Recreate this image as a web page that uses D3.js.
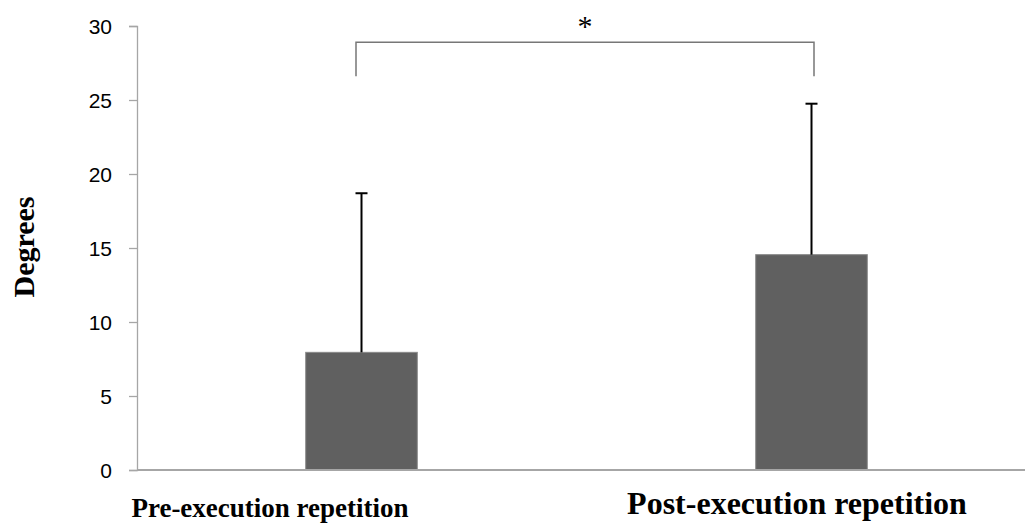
<!DOCTYPE html>
<html>
<head>
<meta charset="utf-8">
<script src="https://cdn.jsdelivr.net/npm/d3@7"></script>
<style>
  html, body { margin: 0; padding: 0; background: #fff; }
  svg { display: block; }
</style>
</head>
<body>
<svg id="chart" width="1027" height="523"></svg>
<script>
// ---- data ----
const categories = ["Pre-execution repetition", "Post-execution repetition"];
const means = [7.95, 14.55];
const sds = [10.75, 10.2];
const yTicks = [0, 5, 10, 15, 20, 25, 30];
const yLabel = "Degrees";
const sigLabel = "*";
const sigBracket = [28.9, 26.6]; // top, leg bottom (data units)

// ---- layout ----
const svg = d3.select("#chart");
const x = d3.scaleBand().domain(categories).range([136.5, 1036.5]).padding(0);
const y = d3.scaleLinear().domain([0, 30]).range([470, 26]);
const axisRight = 1025;
const barFrac = 0.248;

// y axis
const yAxis = d3.axisLeft(y).tickValues(yTicks).tickSize(8).tickPadding(17);
const gy = svg.append("g").attr("transform", "translate(137,0)").call(yAxis);
gy.select(".domain").attr("stroke", "#a6a6a6").attr("stroke-width", 1.3);
gy.selectAll(".tick line").attr("stroke", "#a6a6a6").attr("stroke-width", 1.3);
gy.selectAll(".tick text")
  .attr("fill", "#000")
  .style("font-family", "'Liberation Sans', Arial, sans-serif")
  .style("font-size", "21px")
  .attr("dy", "0.36em");

// bars
const bw = x.bandwidth() * barFrac;
svg.append("g").selectAll("rect").data(categories).join("rect")
  .attr("x", d => x(d) + x.bandwidth() / 2 - bw / 2)
  .attr("width", bw)
  .attr("y", (d, i) => y(means[i]))
  .attr("height", (d, i) => y(0) - y(means[i]))
  .attr("fill", "#606060")
  .attr("stroke", "#8a8a8a")
  .attr("stroke-width", 1);

// x axis line
svg.append("line")
  .attr("x1", 137).attr("x2", axisRight)
  .attr("y1", y(0)).attr("y2", y(0))
  .attr("stroke", "#a6a6a6").attr("stroke-width", 2);

// error bars (upper only)
const eb = svg.append("g").attr("stroke", "#000").attr("stroke-width", 2);
categories.forEach((c, i) => {
  const cx = x(c) + x.bandwidth() / 2;
  eb.append("line").attr("x1", cx).attr("x2", cx)
    .attr("y1", y(means[i])).attr("y2", y(means[i] + sds[i]));
  eb.append("line").attr("x1", cx - 6).attr("x2", cx + 6)
    .attr("y1", y(means[i] + sds[i])).attr("y2", y(means[i] + sds[i]));
});

// significance bracket
const bx1 = x(categories[0]) + x.bandwidth() / 2 - 5.5;
const bx2 = x(categories[1]) + x.bandwidth() / 2 + 2.5;
svg.append("path")
  .attr("d", d3.line()([[bx1, y(sigBracket[1])], [bx1, y(sigBracket[0])], [bx2, y(sigBracket[0])], [bx2, y(sigBracket[1])]]))
  .attr("fill", "none").attr("stroke", "#777").attr("stroke-width", 1.5);
svg.append("text")
  .attr("x", (bx1 + bx2) / 2)
  .attr("y", y(sigBracket[0]) - 6)
  .attr("text-anchor", "middle")
  .style("font-family", "'Liberation Serif', 'Times New Roman', serif")
  .style("font-size", "30px")
  .attr("fill", "#000")
  .text(sigLabel);

// category labels
const labelLayout = [
  { dx: -91.5, y: 517, size: 27 },
  { dx: -14.5, y: 514, size: 32 }
];
svg.append("g").selectAll("text").data(categories).join("text")
  .attr("x", (d, i) => x(d) + x.bandwidth() / 2 + labelLayout[i].dx)
  .attr("y", (d, i) => labelLayout[i].y)
  .attr("text-anchor", "middle")
  .style("font-family", "'Liberation Serif', 'Times New Roman', serif")
  .style("font-weight", "bold")
  .style("font-size", (d, i) => labelLayout[i].size + "px")
  .attr("fill", "#000")
  .text(d => d);

// y label
svg.append("text")
  .attr("transform", "translate(34,247) rotate(-90)")
  .attr("text-anchor", "middle")
  .style("font-family", "'Liberation Serif', 'Times New Roman', serif")
  .style("font-weight", "bold")
  .style("font-size", "30px")
  .attr("fill", "#000")
  .text(yLabel);
</script>
</body>
</html>
